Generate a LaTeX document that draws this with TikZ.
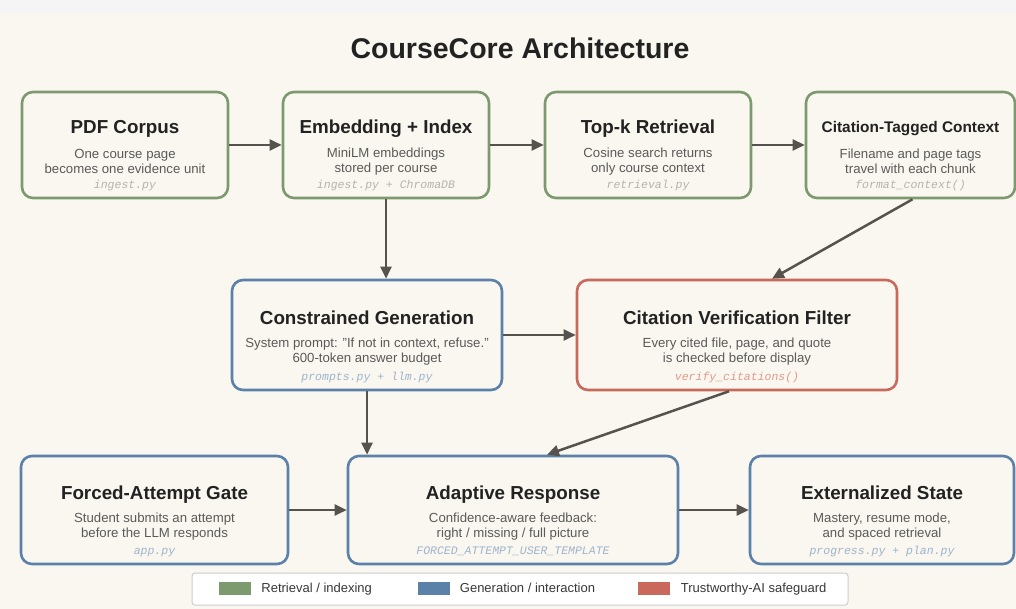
\documentclass[tikz,border=0pt]{standalone}
\usepackage{fontspec}
\setmainfont{Liberation Sans}
\setmonofont{Liberation Mono}
\usetikzlibrary{arrows.meta,positioning}
\definecolor{paper}{HTML}{FAF7F0}
\definecolor{strip}{HTML}{F5F5F5}
\definecolor{retrieval}{HTML}{7D9A6E}
\definecolor{interaction}{HTML}{5B81A8}
\definecolor{safeguard}{HTML}{C8695B}
\definecolor{ink}{HTML}{222222}
\definecolor{note}{HTML}{5A5A5A}
\definecolor{flow}{HTML}{56534E}
\definecolor{retrcode}{HTML}{B3B3AC}
\definecolor{gencode}{HTML}{9DB4CB}
\definecolor{safecode}{HTML}{E29A8C}
\definecolor{legendline}{HTML}{CCCCCC}
\begin{document}
\begin{tikzpicture}[x=1pt, y=-1pt,
    box/.style = {draw, rounded corners=11pt, line width=2.6pt, fill=paper, inner sep=0pt},
    retrbox/.style = {box, draw=retrieval},
    genbox/.style = {box, draw=interaction},
    safebox/.style = {box, draw=safeguard},
    head/.style = {font=\fontsize{18.8}{21}\selectfont\bfseries, text=ink, inner sep=0pt, text height=13.5pt, text depth=4pt},
    smallhead/.style = {head, font=\fontsize{15.4}{18}\selectfont\bfseries},
    body/.style = {font=\fontsize{13.2}{15}\selectfont, text=note, align=center, inner sep=0pt},
    code/.style = {font=\fontsize{11.5}{13}\selectfont\ttfamily\itshape, inner sep=0pt, text height=8pt, text depth=2.5pt},
    flowline/.style = {draw=flow, line width=2.5pt, -{Triangle[length=12pt, width=11pt]}},
    swatch/.style = {minimum width=32pt, minimum height=13pt, inner sep=0pt},
    keytext/.style = {font=\fontsize{13}{15}\selectfont, text=ink!90, inner sep=0pt, text height=9.5pt, text depth=2.5pt}]
    \useasboundingbox (0,0) rectangle (1016,609);
    \fill[paper] (0,0) rectangle (1016,609);
    \fill[strip] (0,0) rectangle (1016,13);

    \node[font=\fontsize{28.5}{32}\selectfont\bfseries, text=ink] (title) at (520,48) {CourseCore Architecture};

    % retrieval row
    \node[retrbox, minimum width=206pt, minimum height=106pt] (pdf)   at (125,145)   {};
    \node[retrbox, minimum width=206pt, minimum height=106pt] (embed) at (386,145)   {};
    \node[retrbox, minimum width=206pt, minimum height=106pt] (topk)  at (648,145)   {};
    \node[retrbox, minimum width=209pt, minimum height=106pt] (ctx)   at (910.5,145) {};
    \node[head] (pdf-head) at ([yshift=16pt]pdf.center) {PDF Corpus};
    \node[body] (pdf-body) at ([yshift=-16.5pt]pdf.center) {One course page\\becomes one evidence unit};
    \node[code, text=retrcode] (pdf-code) at ([yshift=-40.5pt]pdf.center) {ingest.py};
    \node[head] (embed-head) at ([yshift=16pt]embed.center) {Embedding + Index};
    \node[body] (embed-body) at ([yshift=-16.5pt]embed.center) {MiniLM embeddings\\stored per course};
    \node[code, text=retrcode] (embed-code) at ([yshift=-40.5pt]embed.center) {ingest.py + ChromaDB};
    \node[head] (topk-head) at ([yshift=16pt]topk.center) {Top-k Retrieval};
    \node[body] (topk-body) at ([yshift=-16.5pt]topk.center) {Cosine search returns\\only course context};
    \node[code, text=retrcode] (topk-code) at ([yshift=-40.5pt]topk.center) {retrieval.py};
    \node[smallhead] (ctx-head) at ([yshift=17pt]ctx.center) {Citation-Tagged Context};
    \node[body] (ctx-body) at ([yshift=-16.5pt]ctx.center) {Filename and page tags\\travel with each chunk};
    \node[code, text=retrcode] (ctx-code) at ([yshift=-40.5pt]ctx.center) {format\_context()};

    % generation and verification row
    \node[genbox, minimum width=270pt, minimum height=110pt] (gen)     at (367,335) {};
    \node[safebox, minimum width=320pt, minimum height=110pt] (verify) at (737,335) {};
    \node[head] (gen-head) at ([yshift=15.5pt]gen.center) {Constrained Generation};
    \node[body] (gen-body) at ([yshift=-16.5pt]gen.center) {System prompt: "If not in context, refuse."\\600-token answer budget};
    \node[code, text=gencode] (gen-code) at ([yshift=-42.5pt]gen.center) {prompts.py + llm.py};
    \node[head] (verify-head) at ([yshift=15.5pt]verify.center) {Citation Verification Filter};
    \node[body] (verify-body) at ([yshift=-16.5pt]verify.center) {Every cited file, page, and quote\\is checked before display};
    \node[code, text=safecode] (verify-code) at ([yshift=-42.5pt]verify.center) {verify\_citations()};

    % interaction row
    \node[genbox, minimum width=267pt, minimum height=108pt] (gate)  at (154.5,510) {};
    \node[genbox, minimum width=330pt, minimum height=108pt] (adapt) at (513,510)   {};
    \node[genbox, minimum width=264pt, minimum height=108pt] (state) at (882,510)   {};
    \node[head] (gate-head) at ([yshift=15.5pt]gate.center) {Forced-Attempt Gate};
    \node[body] (gate-body) at ([yshift=-16.3pt]gate.center) {Student submits an attempt\\before the LLM responds};
    \node[code, text=gencode] (gate-code) at ([yshift=-42pt]gate.center) {app.py};
    \node[head] (adapt-head) at ([yshift=15.5pt]adapt.center) {Adaptive Response};
    \node[body] (adapt-body) at ([yshift=-16.3pt]adapt.center) {Confidence-aware feedback:\\right / missing / full picture};
    \node[code, text=gencode] (adapt-code) at ([yshift=-42pt]adapt.center) {FORCED\_ATTEMPT\_USER\_TEMPLATE};
    \node[head] (state-head) at ([yshift=15.5pt]state.center) {Externalized State};
    \node[body] (state-body) at ([yshift=-16.3pt]state.center) {Mastery, resume mode,\\and spaced retrieval};
    \node[code, text=gencode] (state-code) at ([yshift=-42pt]state.center) {progress.py + plan.py};

    \draw[flowline] (pdf) -- (embed);
    \draw[flowline] (embed) -- (topk);
    \draw[flowline] (topk) -- (ctx);
    \draw[flowline] (embed.south) -- (embed.south |- gen.north);
    \draw[flowline] ([xshift=2pt]ctx.south) -- ([xshift=35pt]verify.north);
    \draw[flowline] (gen) -- (verify);
    \draw[flowline] (gen.south) -- (gen.south |- adapt.north);
    \draw[flowline] ([xshift=-8pt]verify.south) -- ([xshift=34pt]adapt.north);
    \draw[flowline] (gate) -- (adapt);
    \draw[flowline] (adapt) -- (state);

    % legend
    \node[draw=legendline, fill=white, rounded corners=3pt, line width=1pt, minimum width=656pt, minimum height=32pt, inner sep=0pt] (legend) at (520,589) {};
    \node[swatch, fill=retrieval] (key-retr) at (235,588.5) {};
    \node[keytext, right=10pt of key-retr] (key-retr-text) {Retrieval / indexing};
    \node[swatch, fill=interaction] (key-gen) at (433.5,588.5) {};
    \node[keytext, right=10pt of key-gen] (key-gen-text) {Generation / interaction};
    \node[swatch, fill=safeguard] (key-safe) at (653.5,588.5) {};
    \node[keytext, right=11pt of key-safe] (key-safe-text) {Trustworthy-AI safeguard};
\end{tikzpicture}
\end{document}
